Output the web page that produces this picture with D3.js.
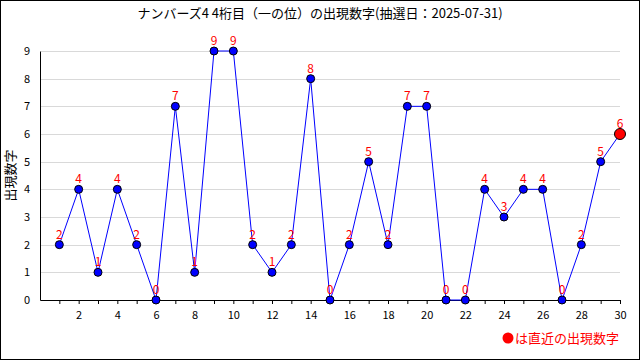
<!DOCTYPE html>
<html>
<head>
<meta charset="utf-8">
<script src="https://cdn.jsdelivr.net/npm/d3@7"></script>
<style>
  body { margin: 0; background: #fff; }
  svg text { font-family: "Noto Sans CJK JP", "DejaVu Sans", sans-serif; }
</style>
</head>
<body>
<div id="chartDiv"></div>
<script>
// draw numbers (1 = oldest, 30 = latest)
const draws = d3.range(1, 31);
const digits = [2, 4, 1, 4, 2, 0, 7, 1, 9, 9, 2, 1, 2, 8, 0, 2, 5, 2, 7, 7, 0, 0, 4, 3, 4, 4, 0, 2, 5, 6];
const xTicks = [2, 4, 6, 8, 10, 12, 14, 16, 18, 20, 22, 24, 26, 28, 30];
const yTicks = [0, 1, 2, 3, 4, 5, 6, 7, 8, 9];

const W = 640, H = 360;
const margin = { top: 51, right: 20, bottom: 60, left: 40 },
    width = W - margin.left - margin.right,
    height = H - margin.top - margin.bottom;

const root = d3.select("#chartDiv")
    .append("svg")
    .attr("width", W)
    .attr("height", H);

// outer frame
root.append("rect")
    .attr("x", 0.5).attr("y", 0.5)
    .attr("width", W - 1).attr("height", H - 1)
    .attr("fill", "#fff").attr("stroke", "#000");

// title
root.append("text")
    .attr("x", 320).attr("y", 18)
    .attr("text-anchor", "middle")
    .style("font-size", "13px")
    .text("ナンバーズ4 4桁目（一の位）の出現数字(抽選日：2025-07-31)");

// y axis title
root.append("text")
    .attr("transform", "translate(15," + (margin.top + height / 2) + ") rotate(-90)")
    .attr("text-anchor", "middle")
    .style("font-size", "13px")
    .text("出現数字");

const svg = root.append("g")
    .attr("transform", "translate(" + margin.left + "," + margin.top + ")");

const x = d3.scaleLinear().domain([0, 30]).range([0, width]);
const y = d3.scaleLinear().domain([0, 9]).range([height, 0]);

// gridlines
svg.selectAll("line.grid")
    .data(yTicks.filter(d => d > 0))
    .enter()
    .append("line")
    .attr("class", "grid")
    .attr("x1", 1).attr("x2", width)
    .attr("y1", d => Math.round(y(d)) + 0.5)
    .attr("y2", d => Math.round(y(d)) + 0.5)
    .style("stroke", "#d9d9d9");

// y axis: labels only, plain line
const yAxis = svg.append("g")
    .call(d3.axisLeft(y).tickValues(yTicks).tickSize(0).tickPadding(10));
yAxis.select(".domain").attr("stroke", "#000");
yAxis.selectAll("text").style("font-size", "11px").attr("fill", "#000");

// x axis: tick at every draw, label on even ones
const xAxis = svg.append("g")
    .attr("transform", "translate(0," + height + ")")
    .call(d3.axisBottom(x).tickValues(d3.range(1, 31)).tickSizeInner(4).tickSizeOuter(0)
        .tickFormat(d => xTicks.includes(d) ? d : ""));
xAxis.selectAll("text").style("font-size", "11px").attr("fill", "#000").attr("dy", "1.1em");

const data = draws.map((d, i) => ({ draw: d, value: digits[i] }));

// line
svg.append("path")
    .datum(data)
    .attr("fill", "none")
    .attr("stroke", "#0000ff")
    .attr("stroke-width", 1)
    .attr("d", d3.line().x(d => x(d.draw)).y(d => y(d.value)));

// points
svg.selectAll("circle")
    .data(data)
    .enter()
    .append("circle")
    .attr("cx", d => x(d.draw))
    .attr("cy", d => y(d.value))
    .attr("r", (d, i) => i === data.length - 1 ? 5.5 : 4)
    .attr("fill", (d, i) => i === data.length - 1 ? "#ff0000" : "#0000ff")
    .attr("stroke", "#000")
    .attr("stroke-width", 1);

// value labels
svg.selectAll("text.val")
    .data(data)
    .enter()
    .append("text")
    .attr("class", "val")
    .attr("x", d => x(d.draw))
    .attr("y", d => y(d.value) - 6)
    .attr("text-anchor", "middle")
    .attr("fill", "#ff0000")
    .style("font-size", "12px")
    .text(d => d.value);

// legend note
root.append("circle")
    .attr("cx", 508).attr("cy", 338).attr("r", 5.5)
    .attr("fill", "#ff0000");
root.append("text")
    .attr("x", 515).attr("y", 343)
    .attr("fill", "#ff0000")
    .style("font-size", "13px")
    .text("は直近の出現数字");
</script>
</body>
</html>
